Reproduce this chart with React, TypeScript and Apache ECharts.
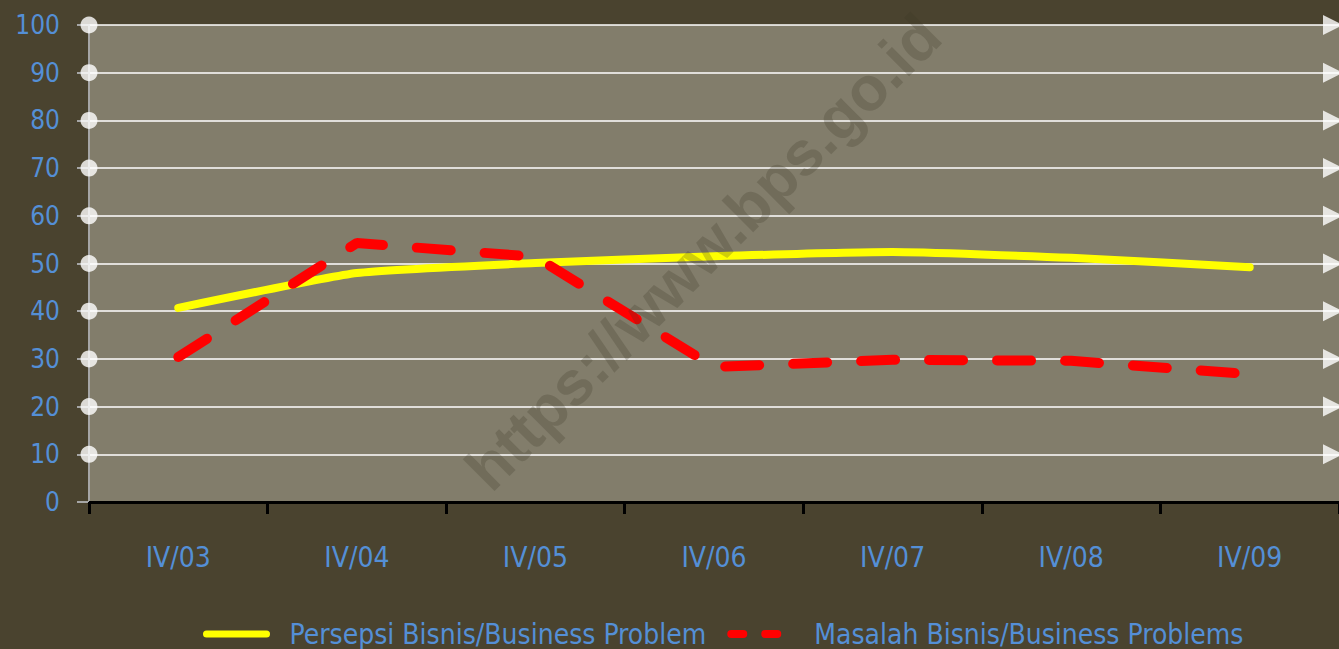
import React, { useEffect, useRef } from "react";
import * as echarts from "echarts";

const categories = ["IV/03", "IV/04", "IV/05", "IV/06", "IV/07", "IV/08", "IV/09"];
const persepsi = [40.7, 48.0, 50.1, 51.5, 52.4, 51.2, 49.2];
const masalah = [30.4, 54.3, 51.4, 28.3, 29.8, 29.6, 26.8];
const yTicks = [10, 20, 30, 40, 50, 60, 70, 80, 90, 100];
const seriesNames = ["Persepsi Bisnis/Business Problem", "Masalah Bisnis/Business Problems"];

const FONT = '"Liberation Sans Narrow", "DejaVu Sans Condensed", "Noto Sans", sans-serif';
const BLUE = "#548fd6";

export default function App() {
  const ref = useRef<HTMLDivElement>(null);
  useEffect(() => {
    if (!ref.current) return;
    const chart = echarts.init(ref.current, null, { renderer: "svg" });
    chart.setOption({
      animation: false,
      backgroundColor: "#4a432f",
      grid: {
        left: 89,
        top: 25,
        width: 1258,
        height: 477,
        show: true,
        backgroundColor: "#827d6b",
        borderWidth: 0,
      },
      xAxis: [
        {
          type: "category",
          data: categories,
          boundaryGap: true,
          axisLine: { show: true, lineStyle: { color: "#000", width: 3 } },
          axisTick: { show: true, length: 12, lineStyle: { color: "#000", width: 3 } },
          axisLabel: { color: BLUE, fontSize: 28, fontFamily: FONT, margin: 41 },
          splitLine: { show: false },
        },
        { type: "value", min: 0, max: 7, show: false },
      ],
      yAxis: {
        type: "value",
        min: 0,
        max: 100,
        interval: 10,
        axisLine: { show: true, lineStyle: { color: "#a6a6a6", width: 2 } },
        axisTick: { show: true, length: 12, lineStyle: { color: "#a6a6a6", width: 2 } },
        axisLabel: { color: BLUE, fontSize: 26, fontFamily: FONT, margin: 29 },
        splitLine: { show: true, lineStyle: { color: "#ffffff", width: 1.5 } },
      },
      legend: {
        top: 615,
        left: 198,
        itemWidth: 60,
        itemHeight: 14,
        itemGap: 21,
        textStyle: { color: BLUE, fontSize: 28, fontFamily: FONT, padding: [0, 0, 0, 18] },
        data: [
          {
            name: seriesNames[0],
            itemStyle: { opacity: 0 },
            lineStyle: { color: "#ffff00", width: 7, cap: "round" },
          },
          {
            name: seriesNames[1],
            itemStyle: { opacity: 0 },
            lineStyle: { color: "#ff0000", type: [12, 22], width: 8, cap: "round" },
          },
        ],
      },
      graphic: [
        {
          type: "text",
          x: 703,
          y: 252,
          rotation: Math.PI / 4,
          silent: true,
          z: 100,
          style: {
            text: "https://www.bps.go.id",
            fontSize: 62,
            fontWeight: "bold",
            fontFamily: '"Liberation Sans", Arial, sans-serif',
            fill: "rgba(60,55,38,0.24)",
            align: "center",
            verticalAlign: "middle",
          },
        },
      ],
      series: [
        {
          name: seriesNames[0],
          type: "line",
          data: persepsi,
          symbol: "none",
          smooth: 0.15,
          lineStyle: { color: "#ffff00", width: 8, cap: "round" },
          itemStyle: { color: "#ffff00" },
          z: 5,
        },
        {
          name: seriesNames[1],
          type: "line",
          data: masalah,
          symbol: "none",
          lineStyle: { color: "#ff0000", width: 10, type: [34, 34], cap: "round" },
          itemStyle: { color: "#ff0000" },
          z: 6,
        },
        {
          type: "scatter",
          xAxisIndex: 1,
          data: yTicks.map((v) => [0, v]),
          symbol: "circle",
          symbolSize: 17,
          itemStyle: { color: "#ffffff" },
          silent: true,
          z: 10,
        },
        {
          type: "scatter",
          xAxisIndex: 1,
          data: yTicks.map((v) => [7, v]),
          symbol: "triangle",
          symbolRotate: -90,
          symbolSize: 20,
          symbolOffset: [-6, 0],
          itemStyle: { color: "#ffffff" },
          silent: true,
          z: 10,
        },
      ],
    });
    return () => chart.dispose();
  }, []);
  return (
    <div
      ref={ref}
      style={{ position: "fixed", left: 0, top: 0, width: 1339, height: 649 }}
    />
  );
}
